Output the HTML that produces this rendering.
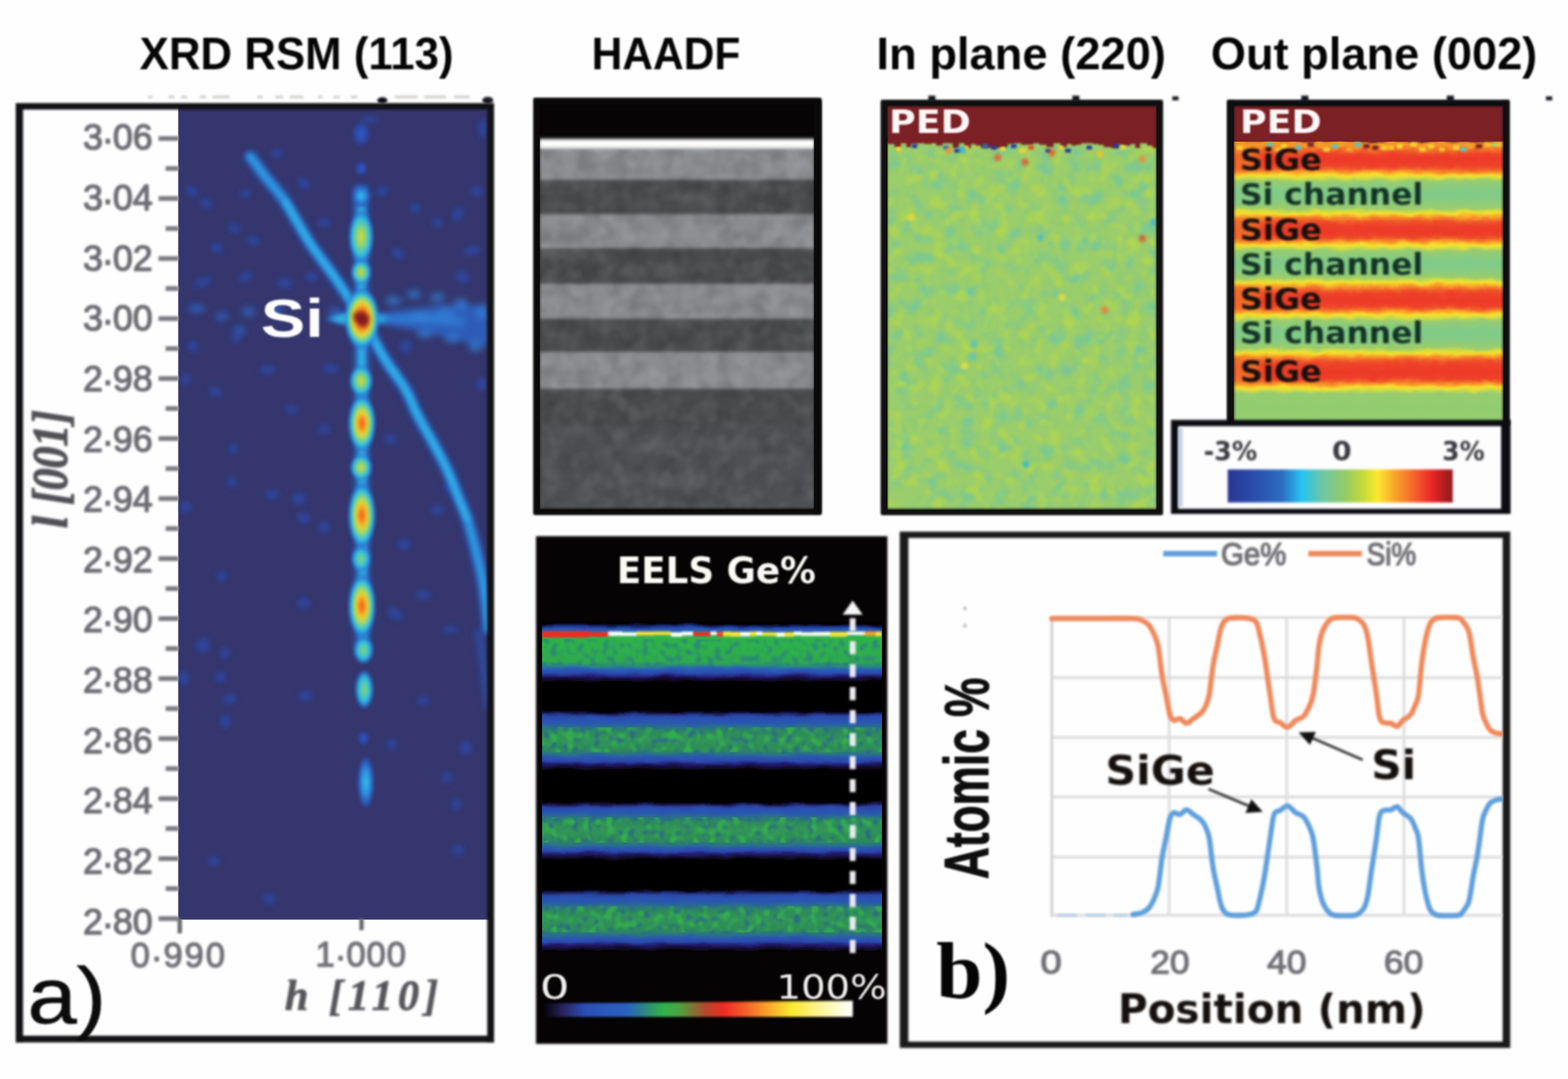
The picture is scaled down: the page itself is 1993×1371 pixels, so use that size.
<!DOCTYPE html>
<html lang="en">
<head>
<meta charset="utf-8">
<title>SiGe/Si multilayer characterisation figure</title>
<style>
html,body{margin:0;padding:0;background:#fefefe;}
body{width:1993px;height:1371px;overflow:hidden;font-family:"Liberation Sans",sans-serif;}
svg{display:block;}
.sb{font-family:"Liberation Sans",sans-serif;font-weight:bold;}
.sr{font-family:"Liberation Sans",sans-serif;}
.db{font-family:"DejaVu Sans","Liberation Sans",sans-serif;font-weight:bold;}
.dr{font-family:"DejaVu Sans","Liberation Sans",sans-serif;}
.si{font-family:"Liberation Serif",serif;font-style:italic;}
.sfb{font-family:"Liberation Serif",serif;font-weight:bold;}
</style>
</head>
<body>
<svg width="1993" height="1371" viewBox="0 0 1993 1371">
<defs>
<filter color-interpolation-filters="sRGB" id="b1" filterUnits="userSpaceOnUse" x="0" y="0" width="1993" height="1371"><feGaussianBlur stdDeviation="1.5"/></filter>
<filter color-interpolation-filters="sRGB" id="b15" filterUnits="userSpaceOnUse" x="0" y="0" width="1993" height="1371"><feGaussianBlur stdDeviation="1.5"/></filter>
<filter color-interpolation-filters="sRGB" id="b2" filterUnits="userSpaceOnUse" x="0" y="0" width="1993" height="1371"><feGaussianBlur stdDeviation="2"/></filter>
<filter color-interpolation-filters="sRGB" id="b3" filterUnits="userSpaceOnUse" x="0" y="0" width="1993" height="1371"><feGaussianBlur stdDeviation="3"/></filter>
<filter color-interpolation-filters="sRGB" id="b4" filterUnits="userSpaceOnUse" x="0" y="0" width="1993" height="1371"><feGaussianBlur stdDeviation="4.5"/></filter>
<filter color-interpolation-filters="sRGB" id="bt" x="-10%" y="-30%" width="120%" height="160%"><feGaussianBlur stdDeviation="1.2"/></filter>
<filter color-interpolation-filters="sRGB" id="bt2" x="-10%" y="-30%" width="120%" height="160%"><feGaussianBlur stdDeviation="1.8"/></filter>
<filter color-interpolation-filters="sRGB" id="grain" x="0" y="0" width="100%" height="100%">
  <feTurbulence type="fractalNoise" baseFrequency="0.045" numOctaves="2" seed="11" result="n"/>
  <feColorMatrix in="n" type="matrix" values="0 0 0 0 1  0 0 0 0 1  0 0 0 0 1  1.6 0 0 0 -0.62"/>
  <feGaussianBlur stdDeviation="1.2"/>
</filter>
<filter color-interpolation-filters="sRGB" id="grainD" x="0" y="0" width="100%" height="100%">
  <feTurbulence type="fractalNoise" baseFrequency="0.045" numOctaves="2" seed="23" result="n"/>
  <feColorMatrix in="n" type="matrix" values="0 0 0 0 0  0 0 0 0 0  0 0 0 0 0  1.6 0 0 0 -0.62"/>
  <feGaussianBlur stdDeviation="1.2"/>
</filter>
<filter color-interpolation-filters="sRGB" id="teal" x="0" y="0" width="100%" height="100%">
  <feTurbulence type="fractalNoise" baseFrequency="0.05" numOctaves="2" seed="5" result="n"/>
  <feColorMatrix in="n" type="matrix" values="0 0 0 0 0.46  0 0 0 0 0.78  0 0 0 0 0.60  3.0 0 0 0 -1.42"/>
  <feGaussianBlur stdDeviation="1.5"/>
</filter>
<filter color-interpolation-filters="sRGB" id="yel" x="0" y="0" width="100%" height="100%">
  <feTurbulence type="fractalNoise" baseFrequency="0.06" numOctaves="2" seed="41" result="n"/>
  <feColorMatrix in="n" type="matrix" values="0 0 0 0 0.72  0 0 0 0 0.85  0 0 0 0 0.28  3.0 0 0 0 -1.45"/>
  <feGaussianBlur stdDeviation="1.5"/>
</filter>
<filter color-interpolation-filters="sRGB" id="bluesp" x="0" y="0" width="100%" height="100%">
  <feTurbulence type="fractalNoise" baseFrequency="0.11" numOctaves="1" seed="9" result="n"/>
  <feColorMatrix in="n" type="matrix" values="0 0 0 0 0.16  0 0 0 0 0.40  0 0 0 0 0.56  5 0 0 0 -2.55"/>
  <feGaussianBlur stdDeviation="1.2"/>
</filter>
<filter color-interpolation-filters="sRGB" id="grsp" x="0" y="0" width="100%" height="100%">
  <feTurbulence type="fractalNoise" baseFrequency="0.12" numOctaves="1" seed="17" result="n"/>
  <feColorMatrix in="n" type="matrix" values="0 0 0 0 0.16  0 0 0 0 0.40  0 0 0 0 0.62  5 0 0 0 -2.4"/>
  <feGaussianBlur stdDeviation="1.1"/>
</filter>
<filter color-interpolation-filters="sRGB" id="grnsp" x="0" y="0" width="100%" height="100%">
  <feTurbulence type="fractalNoise" baseFrequency="0.10" numOctaves="1" seed="33" result="n"/>
  <feColorMatrix in="n" type="matrix" values="0 0 0 0 0.21  0 0 0 0 0.69  0 0 0 0 0.30  5 0 0 0 -2.45"/>
  <feGaussianBlur stdDeviation="1.1"/>
</filter>
<filter color-interpolation-filters="sRGB" id="redsp" x="0" y="0" width="100%" height="100%">
  <feTurbulence type="fractalNoise" baseFrequency="0.10" numOctaves="2" seed="29" result="n"/>
  <feColorMatrix in="n" type="matrix" values="0 0 0 0 0.93  0 0 0 0 0.22  0 0 0 0 0.14  3.2 0 0 0 -1.5"/>
  <feGaussianBlur stdDeviation="1.2"/>
</filter>
<linearGradient id="jet" x1="0" y1="0" x2="1" y2="0">
  <stop offset="0" stop-color="#2b3594"/>
  <stop offset="0.10" stop-color="#2a4aa8"/>
  <stop offset="0.24" stop-color="#2d6cc0"/>
  <stop offset="0.33" stop-color="#25c3f0"/>
  <stop offset="0.42" stop-color="#6ec6a6"/>
  <stop offset="0.52" stop-color="#92cb68"/>
  <stop offset="0.60" stop-color="#c4d93a"/>
  <stop offset="0.665" stop-color="#fbe92c"/>
  <stop offset="0.74" stop-color="#f9a62a"/>
  <stop offset="0.83" stop-color="#f2622c"/>
  <stop offset="0.91" stop-color="#ea2426"/>
  <stop offset="1" stop-color="#8a1a1e"/>
</linearGradient>
<linearGradient id="eelsbar" x1="0" y1="0" x2="1" y2="0">
  <stop offset="0" stop-color="#07040f"/>
  <stop offset="0.06" stop-color="#2a2460"/>
  <stop offset="0.13" stop-color="#2a4fb4"/>
  <stop offset="0.27" stop-color="#2b62c0"/>
  <stop offset="0.33" stop-color="#2f8a7a"/>
  <stop offset="0.385" stop-color="#2eb44a"/>
  <stop offset="0.44" stop-color="#4fa040"/>
  <stop offset="0.52" stop-color="#b04a2c"/>
  <stop offset="0.58" stop-color="#ee2a26"/>
  <stop offset="0.66" stop-color="#f4682a"/>
  <stop offset="0.74" stop-color="#fbb22a"/>
  <stop offset="0.80" stop-color="#fbe82e"/>
  <stop offset="0.90" stop-color="#fdf6a0"/>
  <stop offset="1" stop-color="#ffffff"/>
</linearGradient>
<radialGradient id="gHot">
  <stop offset="0" stop-color="#e8301e"/>
  <stop offset="0.22" stop-color="#f2601e"/>
  <stop offset="0.40" stop-color="#f6a622"/>
  <stop offset="0.54" stop-color="#dede3c"/>
  <stop offset="0.66" stop-color="#86d284"/>
  <stop offset="0.78" stop-color="#2cc0e6"/>
  <stop offset="0.90" stop-color="#2a78d4" stop-opacity="0.8"/>
  <stop offset="1" stop-color="#2a50c0" stop-opacity="0"/>
</radialGradient>
<radialGradient id="gSpike">
  <stop offset="0" stop-color="#8ad480"/>
  <stop offset="0.35" stop-color="#3cc6dc"/>
  <stop offset="0.7" stop-color="#2c9ee2" stop-opacity="0.9"/>
  <stop offset="1" stop-color="#2a60cc" stop-opacity="0"/>
</radialGradient>
<radialGradient id="gOr">
  <stop offset="0" stop-color="#f2541e"/>
  <stop offset="0.18" stop-color="#f7821e"/>
  <stop offset="0.34" stop-color="#f4c628"/>
  <stop offset="0.48" stop-color="#c0dc4a"/>
  <stop offset="0.62" stop-color="#6fd0a0"/>
  <stop offset="0.76" stop-color="#2cc0e6"/>
  <stop offset="0.9" stop-color="#2a6fd0" stop-opacity="0.8"/>
  <stop offset="1" stop-color="#2a50c0" stop-opacity="0"/>
</radialGradient>
<radialGradient id="gYe">
  <stop offset="0" stop-color="#d4dc3c"/>
  <stop offset="0.25" stop-color="#a8d458"/>
  <stop offset="0.5" stop-color="#62cca8"/>
  <stop offset="0.72" stop-color="#2cbce6"/>
  <stop offset="0.9" stop-color="#2a6fd0" stop-opacity="0.8"/>
  <stop offset="1" stop-color="#2a50c0" stop-opacity="0"/>
</radialGradient>
<radialGradient id="gGr">
  <stop offset="0" stop-color="#8ed272"/>
  <stop offset="0.3" stop-color="#5ccca8"/>
  <stop offset="0.62" stop-color="#2cbce6"/>
  <stop offset="0.88" stop-color="#2a6fd0" stop-opacity="0.8"/>
  <stop offset="1" stop-color="#2a50c0" stop-opacity="0"/>
</radialGradient>
<radialGradient id="gCy">
  <stop offset="0" stop-color="#34c4ea"/>
  <stop offset="0.5" stop-color="#2c8cdc"/>
  <stop offset="0.85" stop-color="#2a5cc8" stop-opacity="0.7"/>
  <stop offset="1" stop-color="#2a50c0" stop-opacity="0"/>
</radialGradient>
<radialGradient id="gBl">
  <stop offset="0" stop-color="#2a5ed0"/>
  <stop offset="0.6" stop-color="#2a50c0" stop-opacity="0.7"/>
  <stop offset="1" stop-color="#2a48b0" stop-opacity="0"/>
</radialGradient>
<clipPath id="clipHeat"><rect x="226.5" y="134" width="398" height="1034.5"/></clipPath>
<clipPath id="clipHaadf"><rect x="686" y="132" width="349" height="516"/></clipPath>
<clipPath id="clipIn"><rect x="1128" y="134" width="342" height="514"/></clipPath>
<clipPath id="clipOut"><rect x="1568" y="134" width="343" height="403"/></clipPath>
<clipPath id="clipEels"><rect x="689" y="790" width="432" height="420"/></clipPath>
<clipPath id="clipChart"><rect x="1330" y="700" width="580" height="480"/></clipPath>
</defs>
<g id="panel-a">
<g filter="url(#b1)" opacity="0.5">
<rect x="188" y="121.5" width="6" height="3.5" fill="#aaa6a2"/>
<rect x="214" y="121.5" width="8" height="3.5" fill="#aaa6a2"/>
<rect x="230" y="121.5" width="8" height="3.5" fill="#aaa6a2"/>
<rect x="254" y="121.5" width="8" height="3.5" fill="#aaa6a2"/>
<rect x="270" y="121.5" width="22" height="3.5" fill="#aaa6a2"/>
<rect x="327" y="121.5" width="7" height="3.5" fill="#aaa6a2"/>
<rect x="350" y="121.5" width="10" height="3.5" fill="#aaa6a2"/>
<rect x="368" y="121.5" width="18" height="3.5" fill="#aaa6a2"/>
<rect x="404" y="121.5" width="6" height="3.5" fill="#aaa6a2"/>
<rect x="424" y="121.5" width="8" height="3.5" fill="#aaa6a2"/>
<rect x="446" y="121.5" width="8" height="3.5" fill="#aaa6a2"/>
<rect x="502" y="121.5" width="29" height="3.5" fill="#aaa6a2"/>
<rect x="539" y="121.5" width="28" height="3.5" fill="#aaa6a2"/>
<rect x="577" y="121.5" width="20" height="3.5" fill="#aaa6a2"/>
</g>
<g filter="url(#b15)"><ellipse cx="486" cy="127.5" rx="6.5" ry="4" fill="#0c0e14"/><ellipse cx="620" cy="127.5" rx="7" ry="4.5" fill="#1e1c22"/></g>
<rect x="24" y="135" width="600" height="1185" fill="#fefefe"/>
<g clip-path="url(#clipHeat)">
<rect x="224" y="132" width="402" height="1038" fill="#34366d"/>
<g filter="url(#b3)">
<ellipse cx="244" cy="243" rx="9" ry="6" fill="#2a50c0" opacity="0.52" transform="rotate(25 244 243)"/>
<ellipse cx="262" cy="258" rx="8" ry="6" fill="#2a50c0" opacity="0.52" transform="rotate(20 262 258)"/>
<ellipse cx="298" cy="290" rx="8" ry="6" fill="#2a50c0" opacity="0.52" transform="rotate(30 298 290)"/>
<ellipse cx="312" cy="246" rx="7" ry="6" fill="#2a50c0" opacity="0.52" transform="rotate(0 312 246)"/>
<ellipse cx="352" cy="195" rx="7" ry="6" fill="#2a50c0" opacity="0.52" transform="rotate(0 352 195)"/>
<ellipse cx="258" cy="358" rx="12" ry="6" fill="#2a50c0" opacity="0.52" transform="rotate(-20 258 358)"/>
<ellipse cx="276" cy="315" rx="8" ry="7" fill="#2a50c0" opacity="0.52" transform="rotate(30 276 315)"/>
<ellipse cx="312" cy="352" rx="9" ry="6" fill="#2a50c0" opacity="0.52" transform="rotate(-30 312 352)"/>
<ellipse cx="322" cy="306" rx="9" ry="6" fill="#2a50c0" opacity="0.52" transform="rotate(30 322 306)"/>
<ellipse cx="386" cy="233" rx="9" ry="7" fill="#2a50c0" opacity="0.52" transform="rotate(30 386 233)"/>
<ellipse cx="412" cy="283" rx="9" ry="6" fill="#2a50c0" opacity="0.52" transform="rotate(0 412 283)"/>
<ellipse cx="396" cy="352" rx="8" ry="7" fill="#2a50c0" opacity="0.52" transform="rotate(0 396 352)"/>
<ellipse cx="362" cy="360" rx="10" ry="7" fill="#2a50c0" opacity="0.52" transform="rotate(0 362 360)"/>
<ellipse cx="486" cy="243" rx="9" ry="6" fill="#2a50c0" opacity="0.52" transform="rotate(-20 486 243)"/>
<ellipse cx="506" cy="322" rx="9" ry="7" fill="#2a50c0" opacity="0.52" transform="rotate(30 506 322)"/>
<ellipse cx="528" cy="265" rx="7" ry="7" fill="#2a50c0" opacity="0.52" transform="rotate(0 528 265)"/>
<ellipse cx="556" cy="283" rx="7" ry="6" fill="#2a50c0" opacity="0.52" transform="rotate(0 556 283)"/>
<ellipse cx="582" cy="272" rx="7" ry="10" fill="#2a50c0" opacity="0.52" transform="rotate(20 582 272)"/>
<ellipse cx="606" cy="243" rx="7" ry="7" fill="#2a50c0" opacity="0.52" transform="rotate(0 606 243)"/>
<ellipse cx="614" cy="163" rx="6" ry="12" fill="#2a50c0" opacity="0.52" transform="rotate(0 614 163)"/>
<ellipse cx="600" cy="318" rx="11" ry="6" fill="#2a50c0" opacity="0.52" transform="rotate(-10 600 318)"/>
<ellipse cx="588" cy="352" rx="9" ry="8" fill="#2a50c0" opacity="0.52" transform="rotate(30 588 352)"/>
<ellipse cx="470" cy="152" rx="11" ry="5" fill="#2a50c0" opacity="0.52" transform="rotate(0 470 152)"/>
<ellipse cx="245" cy="440" rx="7" ry="7" fill="#2a50c0" opacity="0.52" transform="rotate(0 245 440)"/>
<ellipse cx="300" cy="430" rx="7" ry="6" fill="#2a50c0" opacity="0.52" transform="rotate(0 300 430)"/>
<ellipse cx="340" cy="470" rx="10" ry="6" fill="#2a50c0" opacity="0.52" transform="rotate(0 340 470)"/>
<ellipse cx="420" cy="468" rx="11" ry="6" fill="#2a50c0" opacity="0.52" transform="rotate(10 420 468)"/>
<ellipse cx="516" cy="440" rx="8" ry="9" fill="#2a50c0" opacity="0.52" transform="rotate(0 516 440)"/>
<ellipse cx="236" cy="482" rx="6" ry="7" fill="#2a50c0" opacity="0.52" transform="rotate(0 236 482)"/>
<ellipse cx="274" cy="498" rx="9" ry="7" fill="#2a50c0" opacity="0.52" transform="rotate(20 274 498)"/>
<ellipse cx="370" cy="520" rx="8" ry="6" fill="#2a50c0" opacity="0.52" transform="rotate(0 370 520)"/>
<ellipse cx="412" cy="546" rx="8" ry="6" fill="#2a50c0" opacity="0.52" transform="rotate(0 412 546)"/>
<ellipse cx="296" cy="570" rx="6" ry="7" fill="#2a50c0" opacity="0.52" transform="rotate(0 296 570)"/>
<ellipse cx="295" cy="612" rx="7" ry="7" fill="#2a50c0" opacity="0.52" transform="rotate(0 295 612)"/>
<ellipse cx="346" cy="628" rx="9" ry="6" fill="#2a50c0" opacity="0.52" transform="rotate(0 346 628)"/>
<ellipse cx="380" cy="634" rx="9" ry="8" fill="#2a50c0" opacity="0.52" transform="rotate(0 380 634)"/>
<ellipse cx="386" cy="658" rx="9" ry="7" fill="#2a50c0" opacity="0.52" transform="rotate(20 386 658)"/>
<ellipse cx="412" cy="670" rx="7" ry="8" fill="#2a50c0" opacity="0.52" transform="rotate(0 412 670)"/>
<ellipse cx="236" cy="644" rx="8" ry="7" fill="#2a50c0" opacity="0.52" transform="rotate(0 236 644)"/>
<ellipse cx="496" cy="558" rx="8" ry="7" fill="#2a50c0" opacity="0.52" transform="rotate(0 496 558)"/>
<ellipse cx="556" cy="648" rx="8" ry="7" fill="#2a50c0" opacity="0.52" transform="rotate(0 556 648)"/>
<ellipse cx="514" cy="692" rx="9" ry="7" fill="#2a50c0" opacity="0.52" transform="rotate(0 514 692)"/>
<ellipse cx="538" cy="756" rx="10" ry="6" fill="#2a50c0" opacity="0.52" transform="rotate(0 538 756)"/>
<ellipse cx="574" cy="620" rx="11" ry="5" fill="#2a50c0" opacity="0.52" transform="rotate(0 574 620)"/>
<ellipse cx="612" cy="488" rx="7" ry="9" fill="#2a50c0" opacity="0.52" transform="rotate(0 612 488)"/>
<ellipse cx="282" cy="732" rx="7" ry="7" fill="#2a50c0" opacity="0.52" transform="rotate(0 282 732)"/>
<ellipse cx="386" cy="766" rx="9" ry="7" fill="#2a50c0" opacity="0.52" transform="rotate(0 386 766)"/>
<ellipse cx="502" cy="780" rx="11" ry="7" fill="#2a50c0" opacity="0.52" transform="rotate(35 502 780)"/>
<ellipse cx="572" cy="800" rx="10" ry="5" fill="#2a50c0" opacity="0.52" transform="rotate(0 572 800)"/>
<ellipse cx="258" cy="820" rx="9" ry="10" fill="#2a50c0" opacity="0.52" transform="rotate(30 258 820)"/>
<ellipse cx="286" cy="830" rx="7" ry="7" fill="#2a50c0" opacity="0.52" transform="rotate(0 286 830)"/>
<ellipse cx="234" cy="862" rx="7" ry="9" fill="#2a50c0" opacity="0.52" transform="rotate(0 234 862)"/>
<ellipse cx="280" cy="860" rx="7" ry="7" fill="#2a50c0" opacity="0.52" transform="rotate(0 280 860)"/>
<ellipse cx="292" cy="888" rx="8" ry="7" fill="#2a50c0" opacity="0.52" transform="rotate(0 292 888)"/>
<ellipse cx="286" cy="916" rx="7" ry="9" fill="#2a50c0" opacity="0.52" transform="rotate(20 286 916)"/>
<ellipse cx="388" cy="884" rx="9" ry="7" fill="#2a50c0" opacity="0.52" transform="rotate(0 388 884)"/>
<ellipse cx="498" cy="946" rx="7" ry="7" fill="#2a50c0" opacity="0.52" transform="rotate(0 498 946)"/>
<ellipse cx="538" cy="890" rx="8" ry="6" fill="#2a50c0" opacity="0.52" transform="rotate(0 538 890)"/>
<ellipse cx="592" cy="950" rx="8" ry="9" fill="#2a50c0" opacity="0.52" transform="rotate(0 592 950)"/>
<ellipse cx="568" cy="988" rx="7" ry="7" fill="#2a50c0" opacity="0.52" transform="rotate(0 568 988)"/>
<ellipse cx="580" cy="1022" rx="7" ry="7" fill="#2a50c0" opacity="0.52" transform="rotate(0 580 1022)"/>
<ellipse cx="582" cy="1080" rx="8" ry="7" fill="#2a50c0" opacity="0.52" transform="rotate(0 582 1080)"/>
<ellipse cx="272" cy="1094" rx="8" ry="6" fill="#2a50c0" opacity="0.52" transform="rotate(0 272 1094)"/>
<ellipse cx="342" cy="1142" rx="8" ry="7" fill="#2a50c0" opacity="0.52" transform="rotate(30 342 1142)"/>
</g>
<path d="M318 199C321.7 203.8 332.5 218.3 340 228C347.5 237.7 354 243.5 363 257C372 270.5 383.2 292.5 394 309C404.8 325.5 417 340 428 356C439 372 449.8 388.3 460 405C470.2 421.7 479.8 441.2 489 456C498.2 470.8 508 482 515 494C522 506 525.3 517 531 528C536.7 539 542.8 548.7 549 560C555.2 571.3 562.7 584.7 568 596C573.3 607.3 576.7 617.3 581 628C585.3 638.7 590.2 648.7 594 660C597.8 671.3 601 684.3 604 696C607 707.7 609.8 719 612 730C614.2 741 615.5 750.3 617 762C618.5 773.7 620.3 793.7 621 800" fill="none" stroke="#2a62cc" stroke-width="15" stroke-linecap="round" opacity="0.8" filter="url(#b4)"/>
<path d="M318 199C321.7 203.8 332.5 218.3 340 228C347.5 237.7 354 243.5 363 257C372 270.5 383.2 292.5 394 309C404.8 325.5 417 340 428 356C439 372 449.8 388.3 460 405C470.2 421.7 479.8 441.2 489 456C498.2 470.8 508 482 515 494C522 506 525.3 517 531 528C536.7 539 542.8 548.7 549 560C555.2 571.3 562.7 584.7 568 596C573.3 607.3 576.7 617.3 581 628C585.3 638.7 590.2 648.7 594 660C597.8 671.3 601 684.3 604 696C607 707.7 609.8 719 612 730C614.2 741 615.5 750.3 617 762C618.5 773.7 620.3 793.7 621 800" fill="none" stroke="#2e98e0" stroke-width="10" stroke-linecap="round" filter="url(#b3)"/>
<path d="M363 257C368.2 265.7 383.2 292.5 394 309C404.8 325.5 417 340 428 356C439 372 449.8 388.3 460 405C470.2 421.7 479.8 441.2 489 456C498.2 470.8 508 482 515 494C522 506 525.3 517 531 528C536.7 539 542.8 548.7 549 560C555.2 571.3 562.7 584.7 568 596C573.3 607.3 576.7 617.3 581 628C585.3 638.7 591.8 654.7 594 660" fill="none" stroke="#34bcea" stroke-width="5" stroke-linecap="round" opacity="0.8" filter="url(#b3)"/>
<path d="M608 800 Q616 850 622 900" fill="none" stroke="#2a60cc" stroke-width="9" opacity="0.6" filter="url(#b4)"/>
<g filter="url(#b4)">
<path d="M486 398 L520 392 L560 388 L622 388 L622 440 L590 434 L540 422 L486 412 Z" fill="#2c66ca" opacity="0.8"/>
<path d="M480 400 L540 399 L590 405 L590 414 L540 411 L480 410 Z" fill="#3386da" opacity="0.75"/>
<ellipse cx="500" cy="382" rx="10" ry="6" fill="#3280d8" opacity="0.7"/>
<ellipse cx="526" cy="374" rx="9" ry="6" fill="#3280d8" opacity="0.7"/>
<ellipse cx="556" cy="378" rx="9" ry="6" fill="#3280d8" opacity="0.7"/>
<ellipse cx="586" cy="386" rx="9" ry="7" fill="#3280d8" opacity="0.7"/>
<ellipse cx="612" cy="396" rx="8" ry="9" fill="#3280d8" opacity="0.7"/>
<ellipse cx="540" cy="424" rx="10" ry="6" fill="#3280d8" opacity="0.7"/>
<ellipse cx="575" cy="430" rx="10" ry="6" fill="#3280d8" opacity="0.7"/>
<ellipse cx="604" cy="440" rx="9" ry="7" fill="#3280d8" opacity="0.7"/>
<ellipse cx="534" cy="402" rx="12" ry="7" fill="#3280d8" opacity="0.7"/>
<ellipse cx="566" cy="398" rx="12" ry="8" fill="#3280d8" opacity="0.7"/>
<ellipse cx="350" cy="394" rx="9" ry="6" fill="#2c6ad0" opacity="0.75"/>
<ellipse cx="316" cy="396" rx="8" ry="6" fill="#2c6ad0" opacity="0.75"/>
<ellipse cx="282" cy="402" rx="8" ry="5" fill="#2c6ad0" opacity="0.75"/>
<ellipse cx="304" cy="420" rx="7" ry="6" fill="#2c6ad0" opacity="0.75"/>
<ellipse cx="250" cy="392" rx="11" ry="5" fill="#2c6ad0" opacity="0.75"/>
<ellipse cx="426" cy="396" rx="9" ry="5" fill="#2c6ad0" opacity="0.75"/>
</g>
<path d="M459 236 L460 520 L461 830" fill="none" stroke="#2a72d6" stroke-width="17" opacity="0.85" filter="url(#b4)"/>
<path d="M459 262 L460 520 L461 812" fill="none" stroke="#30b8e8" stroke-width="9" filter="url(#b3)"/>
<g filter="url(#b2)">
<ellipse cx="459" cy="170" rx="12" ry="17" fill="url(#gBl)"/>
<ellipse cx="459" cy="214" rx="9" ry="10" fill="url(#gBl)"/>
<ellipse cx="459" cy="249" rx="12" ry="14" fill="url(#gCy)"/>
<ellipse cx="459" cy="301" rx="16" ry="34" fill="url(#gYe)"/>
<ellipse cx="459" cy="346" rx="13" ry="16" fill="url(#gYe)"/>
<ellipse cx="459" cy="484" rx="15" ry="20" fill="url(#gYe)"/>
<ellipse cx="460" cy="538" rx="18" ry="37" fill="url(#gOr)"/>
<ellipse cx="459" cy="594" rx="14" ry="17" fill="url(#gYe)"/>
<ellipse cx="460" cy="655" rx="18" ry="42" fill="url(#gOr)"/>
<ellipse cx="459" cy="710" rx="13" ry="17" fill="url(#gGr)"/>
<ellipse cx="460" cy="770" rx="18" ry="41" fill="url(#gOr)"/>
<ellipse cx="462" cy="826" rx="13" ry="18" fill="url(#gGr)"/>
<ellipse cx="463" cy="876" rx="12" ry="25" fill="url(#gGr)"/>
<ellipse cx="462" cy="938" rx="8" ry="10" fill="url(#gBl)"/>
<ellipse cx="465" cy="994" rx="11" ry="34" fill="url(#gCy)"/>
<ellipse cx="456" cy="405" rx="46" ry="11" fill="url(#gSpike)"/>
<ellipse cx="460" cy="405" rx="23" ry="40" fill="url(#gHot)"/>
</g>
<path d="M449 398 L462 396 L470 404 L466 415 L458 414 L450 406 Z" fill="#7c1a20" filter="url(#b3)"/>
</g>
<g fill="#121214" filter="url(#b1)">
<rect x="20" y="131" width="9.3" height="1193.5"/>
<rect x="20" y="131" width="608" height="8.2"/>
<rect x="619.3" y="131" width="8.7" height="1193.5"/>
<rect x="20" y="1316" width="608" height="8.5"/>
</g>
<text class="sb" x="331.5" y="427.5" font-size="69" fill="#ffffff" textLength="80" lengthAdjust="spacingAndGlyphs" filter="url(#bt)">Si</text>
<g fill="#7a7a80" filter="url(#b1)">
<rect x="201.5" y="173.0" width="25.5" height="6"/>
<rect x="210.5" y="211.1" width="16.5" height="6"/>
<rect x="201.5" y="249.2" width="25.5" height="6"/>
<rect x="210.5" y="287.4" width="16.5" height="6"/>
<rect x="201.5" y="325.5" width="25.5" height="6"/>
<rect x="210.5" y="363.6" width="16.5" height="6"/>
<rect x="201.5" y="401.8" width="25.5" height="6"/>
<rect x="210.5" y="439.9" width="16.5" height="6"/>
<rect x="201.5" y="478.0" width="25.5" height="6"/>
<rect x="210.5" y="516.1" width="16.5" height="6"/>
<rect x="201.5" y="554.2" width="25.5" height="6"/>
<rect x="210.5" y="592.4" width="16.5" height="6"/>
<rect x="201.5" y="630.5" width="25.5" height="6"/>
<rect x="210.5" y="668.6" width="16.5" height="6"/>
<rect x="201.5" y="706.8" width="25.5" height="6"/>
<rect x="210.5" y="744.9" width="16.5" height="6"/>
<rect x="201.5" y="783.0" width="25.5" height="6"/>
<rect x="210.5" y="821.1" width="16.5" height="6"/>
<rect x="201.5" y="859.2" width="25.5" height="6"/>
<rect x="210.5" y="897.4" width="16.5" height="6"/>
<rect x="201.5" y="935.5" width="25.5" height="6"/>
<rect x="210.5" y="973.6" width="16.5" height="6"/>
<rect x="201.5" y="1011.8" width="25.5" height="6"/>
<rect x="210.5" y="1049.8" width="16.5" height="6"/>
<rect x="201.5" y="1088.0" width="25.5" height="6"/>
<rect x="210.5" y="1126.1" width="16.5" height="6"/>
<rect x="201.5" y="1164.2" width="25.5" height="6"/>
</g>
<g fill="#66666c" filter="url(#b1)"><rect x="225.8" y="1167" width="5.4" height="19"/><rect x="456.8" y="1167" width="5.4" height="15"/></g>
<g class="sr" font-size="45.5" fill="#6c6c72" stroke="#6c6c72" stroke-width="1.5" text-anchor="end" filter="url(#bt2)">
<text x="194" y="190.2">3<tspan dy="-8">.</tspan><tspan dy="8">06</tspan></text>
<text x="194" y="266.9">3<tspan dy="-8">.</tspan><tspan dy="8">04</tspan></text>
<text x="194" y="343.5">3<tspan dy="-8">.</tspan><tspan dy="8">02</tspan></text>
<text x="194" y="420.1">3<tspan dy="-8">.</tspan><tspan dy="8">00</tspan></text>
<text x="194" y="496.8">2<tspan dy="-8">.</tspan><tspan dy="8">98</tspan></text>
<text x="194" y="573.5">2<tspan dy="-8">.</tspan><tspan dy="8">96</tspan></text>
<text x="194" y="650.1">2<tspan dy="-8">.</tspan><tspan dy="8">94</tspan></text>
<text x="194" y="726.8">2<tspan dy="-8">.</tspan><tspan dy="8">92</tspan></text>
<text x="194" y="803.4">2<tspan dy="-8">.</tspan><tspan dy="8">90</tspan></text>
<text x="194" y="880.0">2<tspan dy="-8">.</tspan><tspan dy="8">88</tspan></text>
<text x="194" y="956.7">2<tspan dy="-8">.</tspan><tspan dy="8">86</tspan></text>
<text x="194" y="1033.4">2<tspan dy="-8">.</tspan><tspan dy="8">84</tspan></text>
<text x="194" y="1110.0">2<tspan dy="-8">.</tspan><tspan dy="8">82</tspan></text>
<text x="194" y="1186.7">2<tspan dy="-8">.</tspan><tspan dy="8">80</tspan></text>
</g>
<g class="sr" font-size="44" fill="#707076" stroke="#707076" stroke-width="1.4" filter="url(#bt2)">
<text x="166" y="1229" textLength="120" lengthAdjust="spacing">0<tspan dy="-8">.</tspan><tspan dy="8">990</tspan></text>
<text x="401" y="1228" textLength="115" lengthAdjust="spacing">1<tspan dy="-8">.</tspan><tspan dy="8">000</tspan></text>
</g>
<text class="si" x="362" y="1283" font-size="54" font-weight="bold" fill="#55555a" stroke="#55555a" stroke-width="0.8" textLength="195" lengthAdjust="spacing" filter="url(#bt2)">h [110]</text>
<text class="si" transform="translate(85 671) rotate(-90)" font-size="64" font-weight="bold" fill="#505055" stroke="#505055" stroke-width="1.4" textLength="150" lengthAdjust="spacingAndGlyphs" filter="url(#bt2)">l [001]</text>
<text class="sr" x="35" y="1300" font-size="101" fill="#0c0c0c" stroke="#0c0c0c" stroke-width="0.8" textLength="100" lengthAdjust="spacingAndGlyphs" filter="url(#bt)">a)</text>
</g>
<g id="haadf">
<rect x="678.5" y="125" width="365.5" height="528.5" fill="#0a0808" filter="url(#b1)"/>
<g clip-path="url(#clipHaadf)">
<g filter="url(#b2)">
<rect x="680" y="120" width="362" height="56" fill="#060404"/>
<rect x="680" y="185" width="362" height="474" fill="#4a4b4d"/>
<rect x="680" y="184.0" width="362" height="44.5" fill="#8b8c8f"/>
<rect x="680" y="272.0" width="362" height="43.5" fill="#8b8c8f"/>
<rect x="680" y="360.5" width="362" height="44.5" fill="#8b8c8f"/>
<rect x="680" y="447.0" width="362" height="47.0" fill="#8b8c8f"/>
<rect x="680" y="540" width="362" height="120" fill="#515255" opacity="0.7"/>
</g>
<rect x="686" y="189" width="349" height="460" fill="#ffffff" opacity="0.13" filter="url(#grain)"/>
<rect x="686" y="189" width="349" height="460" fill="#000000" opacity="0.18" filter="url(#grainD)"/>
<rect x="682" y="176.5" width="358" height="12" fill="#fcfcfc" filter="url(#b2)"/>
</g>
<rect x="682.3" y="128.5" width="357.2" height="521.5" fill="none" stroke="#0a0808" stroke-width="7.5" filter="url(#b1)"/>
<rect x="1035" y="128" width="8.5" height="524" fill="#0a0808" filter="url(#b1)"/>
</g>
<g id="inplane">
<rect x="1120" y="127.5" width="357.5" height="526" fill="#101010" filter="url(#b1)"/>
<g clip-path="url(#clipIn)">
<rect x="1126" y="132" width="346" height="518" fill="#9acd6c"/>
<rect x="1128" y="184" width="342" height="464" filter="url(#teal)"/>
<rect x="1128" y="184" width="342" height="464" filter="url(#yel)" opacity="0.8"/>
<path d="M1126 132 L1472 132 L1472 184 L1472 188 L1465 188 L1465 185 L1458 185 L1458 182 L1449 182 L1449 188 L1443 188 L1443 183 L1437 183 L1437 185 L1428 185 L1428 184 L1421 184 L1421 188 L1412 188 L1412 187 L1403 187 L1403 184 L1396 184 L1396 183 L1389 183 L1389 182 L1380 182 L1380 182 L1374 182 L1374 184 L1368 184 L1368 185 L1362 185 L1362 183 L1356 183 L1356 187 L1348 187 L1348 182 L1339 182 L1339 187 L1330 187 L1330 184 L1321 184 L1321 182 L1313 182 L1313 184 L1307 184 L1307 184 L1298 184 L1298 182 L1290 182 L1290 183 L1281 183 L1281 187 L1273 187 L1273 188 L1264 188 L1264 188 L1256 188 L1256 188 L1247 188 L1247 185 L1240 185 L1240 183 L1234 183 L1234 188 L1226 188 L1226 182 L1219 182 L1219 188 L1211 188 L1211 182 L1205 182 L1205 182 L1198 182 L1198 185 L1190 185 L1190 182 L1184 182 L1184 183 L1175 183 L1175 182 L1166 182 L1166 183 L1158 183 L1158 187 L1152 187 L1152 182 L1145 182 L1145 187 L1137 187 L1137 183 L1128 183 L1128 182 L1122 182 L1126 184 Z" fill="#7b2024" filter="url(#b1)"/>
<g filter="url(#b1)">
<rect x="1139" y="187" width="7" height="5" fill="#f4d52e"/>
<rect x="1159" y="183" width="7" height="5" fill="#2a3a9c"/>
<rect x="1199" y="185" width="7" height="5" fill="#2d6cc0"/>
<rect x="1213" y="189" width="7" height="5" fill="#2a3a9c"/>
<rect x="1224" y="185" width="7" height="5" fill="#f4d52e"/>
<rect x="1249" y="183" width="7" height="5" fill="#2d6cc0"/>
<rect x="1260" y="185" width="7" height="5" fill="#2a3a9c"/>
<rect x="1271" y="187" width="7" height="5" fill="#f4d52e"/>
<rect x="1285" y="183" width="7" height="5" fill="#2a3a9c"/>
<rect x="1296" y="189" width="7" height="5" fill="#f4d52e"/>
<rect x="1307" y="185" width="7" height="5" fill="#e84a28"/>
<rect x="1329" y="189" width="7" height="5" fill="#2a3a9c"/>
<rect x="1345" y="185" width="7" height="5" fill="#f4d52e"/>
<rect x="1354" y="189" width="7" height="5" fill="#2a3a9c"/>
<rect x="1381" y="185" width="7" height="5" fill="#2a3a9c"/>
<rect x="1415" y="183" width="7" height="5" fill="#2a3a9c"/>
<rect x="1424" y="185" width="7" height="5" fill="#f4d52e"/>
<circle cx="1268" cy="200" r="4.5" fill="#ec5a2c" opacity="0.85" filter="url(#b15)"/>
<circle cx="1303" cy="206" r="4.5" fill="#e4562e" opacity="0.85" filter="url(#b15)"/>
<circle cx="1337" cy="194" r="4.5" fill="#f0522a" opacity="0.85" filter="url(#b15)"/>
<circle cx="1398" cy="196" r="4.5" fill="#f6c42c" opacity="0.85" filter="url(#b15)"/>
<circle cx="1452" cy="202" r="4.5" fill="#f08a3a" opacity="0.85" filter="url(#b15)"/>
<circle cx="1206" cy="191" r="4.5" fill="#f0902a" opacity="0.85" filter="url(#b15)"/>
<circle cx="1223" cy="190" r="4.5" fill="#22b0ec" opacity="0.85" filter="url(#b15)"/>
<circle cx="1452" cy="303" r="4.5" fill="#e8502c" opacity="0.85" filter="url(#b15)"/>
<circle cx="1404" cy="394" r="4.5" fill="#f07a2a" opacity="0.85" filter="url(#b15)"/>
<circle cx="1158" cy="276" r="4.5" fill="#ecd838" opacity="0.85" filter="url(#b15)"/>
<circle cx="1350" cy="378" r="4.5" fill="#ece038" opacity="0.85" filter="url(#b15)"/>
<circle cx="1226" cy="465" r="4.5" fill="#ece038" opacity="0.85" filter="url(#b15)"/>
<circle cx="1304" cy="590" r="4.5" fill="#30b8dc" opacity="0.85" filter="url(#b15)"/>
<circle cx="1322" cy="302" r="4.5" fill="#4abcd0" opacity="0.85" filter="url(#b15)"/>
<circle cx="1236" cy="453" r="4.5" fill="#5cc4c0" opacity="0.85" filter="url(#b15)"/>
<circle cx="1238" cy="437" r="4.5" fill="#50c0c8" opacity="0.85" filter="url(#b15)"/>
<circle cx="1466" cy="282" r="4.5" fill="#40b8d8" opacity="0.85" filter="url(#b15)"/>
</g>
</g>
<rect x="1124" y="131.3" width="349.7" height="519" fill="none" stroke="#101010" stroke-width="7.6" filter="url(#b1)"/>
<text class="db" x="1130" y="169" font-size="40" fill="#fdf7f7" textLength="104" lengthAdjust="spacingAndGlyphs" filter="url(#bt)">PED</text>
<g filter="url(#b1)" fill="#14161c"><rect x="1180" y="121.5" width="9" height="8"/><rect x="1363" y="121.5" width="9" height="8"/><rect x="1490" y="122.5" width="8" height="5"/></g>
</g>
<linearGradient id="outg" gradientUnits="userSpaceOnUse" x1="0" y1="132" x2="0" y2="540">
<stop offset="0.0000" stop-color="#7b2024"/>
<stop offset="0.1164" stop-color="#7b2024"/>
<stop offset="0.1201" stop-color="#f59a2c"/>
<stop offset="0.1348" stop-color="#f5902c"/>
<stop offset="0.1471" stop-color="#f2642c"/>
<stop offset="0.1593" stop-color="#ee422a"/>
<stop offset="0.1721" stop-color="#ec3a28"/>
<stop offset="0.1946" stop-color="#ee442a"/>
<stop offset="0.2044" stop-color="#f2682c"/>
<stop offset="0.2142" stop-color="#f8a82a"/>
<stop offset="0.2228" stop-color="#f6e22e"/>
<stop offset="0.2314" stop-color="#cfdc44"/>
<stop offset="0.2412" stop-color="#98cc70"/>
<stop offset="0.2713" stop-color="#80cb88"/>
<stop offset="0.2958" stop-color="#84cb84"/>
<stop offset="0.3260" stop-color="#9ccc6c"/>
<stop offset="0.3333" stop-color="#c8da46"/>
<stop offset="0.3407" stop-color="#f4e22e"/>
<stop offset="0.3480" stop-color="#f8b42a"/>
<stop offset="0.3554" stop-color="#f5842c"/>
<stop offset="0.3652" stop-color="#f05a2c"/>
<stop offset="0.3775" stop-color="#ee422a"/>
<stop offset="0.3971" stop-color="#ec3a28"/>
<stop offset="0.4118" stop-color="#ee442a"/>
<stop offset="0.4216" stop-color="#f2682c"/>
<stop offset="0.4314" stop-color="#f8a82a"/>
<stop offset="0.4400" stop-color="#f6e22e"/>
<stop offset="0.4485" stop-color="#cfdc44"/>
<stop offset="0.4583" stop-color="#98cc70"/>
<stop offset="0.4877" stop-color="#80cb88"/>
<stop offset="0.5123" stop-color="#84cb84"/>
<stop offset="0.5417" stop-color="#9ccc6c"/>
<stop offset="0.5490" stop-color="#c8da46"/>
<stop offset="0.5564" stop-color="#f4e22e"/>
<stop offset="0.5637" stop-color="#f8b42a"/>
<stop offset="0.5711" stop-color="#f5842c"/>
<stop offset="0.5809" stop-color="#f05a2c"/>
<stop offset="0.5931" stop-color="#ee422a"/>
<stop offset="0.6135" stop-color="#ec3a28"/>
<stop offset="0.6289" stop-color="#ee442a"/>
<stop offset="0.6387" stop-color="#f2682c"/>
<stop offset="0.6485" stop-color="#f8a82a"/>
<stop offset="0.6571" stop-color="#f6e22e"/>
<stop offset="0.6657" stop-color="#cfdc44"/>
<stop offset="0.6755" stop-color="#98cc70"/>
<stop offset="0.7060" stop-color="#80cb88"/>
<stop offset="0.7305" stop-color="#84cb84"/>
<stop offset="0.7610" stop-color="#9ccc6c"/>
<stop offset="0.7684" stop-color="#c8da46"/>
<stop offset="0.7757" stop-color="#f4e22e"/>
<stop offset="0.7831" stop-color="#f8b42a"/>
<stop offset="0.7904" stop-color="#f5842c"/>
<stop offset="0.8002" stop-color="#f05a2c"/>
<stop offset="0.8125" stop-color="#ee422a"/>
<stop offset="0.8364" stop-color="#ec3a28"/>
<stop offset="0.8554" stop-color="#ee442a"/>
<stop offset="0.8652" stop-color="#f2682c"/>
<stop offset="0.8750" stop-color="#f8a82a"/>
<stop offset="0.8836" stop-color="#f6e22e"/>
<stop offset="0.8922" stop-color="#cfdc44"/>
<stop offset="0.9020" stop-color="#98cc70"/>
<stop offset="0.9387" stop-color="#92cc70"/>
<stop offset="1.0000" stop-color="#96cd6e"/>
</linearGradient>
<filter id="wav" x="-2%" y="-2%" width="104%" height="104%"><feTurbulence type="fractalNoise" baseFrequency="0.05 0.08" numOctaves="2" seed="4" result="t"/><feDisplacementMap in="SourceGraphic" in2="t" scale="7" xChannelSelector="R" yChannelSelector="G"/><feGaussianBlur stdDeviation="1"/></filter>
<g id="outplane">
<rect x="1560" y="127.5" width="358.6" height="412" fill="#101010" filter="url(#b1)"/>
<g clip-path="url(#clipOut)">
<rect x="1556" y="128" width="366" height="416" fill="url(#outg)" filter="url(#wav)"/>
<rect x="1568" y="185.0" width="343" height="30.4" filter="url(#redsp)" opacity="0.5"/>
<rect x="1566" y="183.0" width="34" height="34.4" fill="#f6902a" opacity="0.55" filter="url(#b4)"/>
<rect x="1568" y="280.0" width="343" height="24.0" filter="url(#redsp)" opacity="0.5"/>
<rect x="1566" y="278.0" width="34" height="28.0" fill="#f6902a" opacity="0.55" filter="url(#b4)"/>
<rect x="1568" y="368.0" width="343" height="24.6" filter="url(#redsp)" opacity="0.5"/>
<rect x="1566" y="366.0" width="34" height="28.6" fill="#f6902a" opacity="0.55" filter="url(#b4)"/>
<rect x="1568" y="457.5" width="343" height="27.5" filter="url(#redsp)" opacity="0.5"/>
<rect x="1566" y="455.5" width="34" height="31.5" fill="#f6902a" opacity="0.55" filter="url(#b4)"/>
<rect x="1560" y="128" width="358" height="52" fill="#7b2024"/>
<g filter="url(#b1)">
<rect x="1572" y="185" width="8" height="5.5" fill="#f4d52e"/>
<rect x="1581" y="185" width="8" height="5.5" fill="#f2a22a"/>
<rect x="1610" y="181" width="8" height="5.5" fill="#58c4c0"/>
<rect x="1621" y="187" width="8" height="5.5" fill="#f6c02c"/>
<rect x="1628" y="183" width="8" height="5.5" fill="#f4d52e"/>
<rect x="1646" y="185" width="8" height="5.5" fill="#58c4c0"/>
<rect x="1662" y="181" width="8" height="5.5" fill="#7b2024"/>
<rect x="1673" y="181" width="8" height="5.5" fill="#f2a22a"/>
<rect x="1682" y="187" width="8" height="5.5" fill="#f4d52e"/>
<rect x="1693" y="183" width="8" height="5.5" fill="#58c4c0"/>
<rect x="1700" y="181" width="8" height="5.5" fill="#f2a22a"/>
<rect x="1711" y="187" width="8" height="5.5" fill="#f2a22a"/>
<rect x="1722" y="181" width="8" height="5.5" fill="#58c4c0"/>
<rect x="1733" y="183" width="8" height="5.5" fill="#7b2024"/>
<rect x="1744" y="185" width="8" height="5.5" fill="#7b2024"/>
<rect x="1755" y="185" width="8" height="5.5" fill="#f4d52e"/>
<rect x="1764" y="185" width="8" height="5.5" fill="#f6c02c"/>
<rect x="1775" y="183" width="8" height="5.5" fill="#f4d52e"/>
<rect x="1793" y="181" width="8" height="5.5" fill="#f4d52e"/>
<rect x="1804" y="187" width="8" height="5.5" fill="#f4d52e"/>
<rect x="1815" y="183" width="8" height="5.5" fill="#f4d52e"/>
<rect x="1829" y="187" width="8" height="5.5" fill="#f6c02c"/>
<rect x="1847" y="185" width="8" height="5.5" fill="#f4d52e"/>
<rect x="1856" y="187" width="8" height="5.5" fill="#58c4c0"/>
<rect x="1865" y="183" width="8" height="5.5" fill="#f2a22a"/>
<rect x="1876" y="183" width="8" height="5.5" fill="#7b2024"/>
<rect x="1887" y="181" width="8" height="5.5" fill="#f6c02c"/>
<rect x="1896" y="181" width="8" height="5.5" fill="#a8d468"/>
<rect x="1903" y="181" width="8" height="5.5" fill="#f6c02c"/>
</g>
</g>
<g fill="#0e0e10" filter="url(#b1)"><rect x="1560" y="127.5" width="8.6" height="412"/><rect x="1560" y="127.5" width="358" height="7.6"/><rect x="1910" y="127.5" width="8" height="412"/></g>
<text class="db" x="1576" y="169" font-size="40" fill="#fdf7f7" textLength="104" lengthAdjust="spacingAndGlyphs" filter="url(#bt)">PED</text>
<g class="db" font-size="37" fill="#16100c" filter="url(#bt2)">
<text x="1576" y="216.0" textLength="104" lengthAdjust="spacingAndGlyphs">SiGe</text>
<text x="1576" y="304.7" textLength="104" lengthAdjust="spacingAndGlyphs">SiGe</text>
<text x="1576" y="393.4" textLength="104" lengthAdjust="spacingAndGlyphs">SiGe</text>
<text x="1576" y="485.0" textLength="104" lengthAdjust="spacingAndGlyphs">SiGe</text>
<text x="1576" y="260.0" textLength="233" lengthAdjust="spacingAndGlyphs" fill="#143224">Si channel</text>
<text x="1576" y="348.5" textLength="233" lengthAdjust="spacingAndGlyphs" fill="#143224">Si channel</text>
<text x="1576" y="436.4" textLength="233" lengthAdjust="spacingAndGlyphs" fill="#143224">Si channel</text>
</g>
<g filter="url(#b1)" fill="#14161c"><rect x="1654" y="121.5" width="9" height="8"/><rect x="1839" y="121.5" width="9" height="8"/><rect x="1965" y="122.5" width="8" height="5"/></g>
</g>
<g id="scale">
<rect x="1488.4" y="533.5" width="431.6" height="119.5" fill="#0c0c12" filter="url(#b1)"/>
<rect x="1497.5" y="541.5" width="410.5" height="105" fill="#fdfdfe" filter="url(#b1)"/>
<rect x="1498" y="544" width="5" height="100" fill="#b9c0e0" opacity="0.8" filter="url(#b15)"/>
<rect x="1560.5" y="596.5" width="286" height="42" fill="url(#jet)" filter="url(#b1)"/>
<g class="db" font-size="34" fill="#3a3a3e" filter="url(#bt2)">
<text x="1530" y="584.5" textLength="68" lengthAdjust="spacingAndGlyphs">-3%</text>
<text x="1693" y="584.5" textLength="25" lengthAdjust="spacingAndGlyphs">0</text>
<text x="1833" y="584.5" textLength="54" lengthAdjust="spacingAndGlyphs">3%</text>
</g>
</g>
<g id="eels">
<rect x="681.3" y="681.3" width="446.6" height="645" fill="#050304" filter="url(#b1)"/>
<linearGradient id="eelsg" gradientUnits="userSpaceOnUse" x1="0" y1="780" x2="0" y2="1215">
<stop offset="0.0000" stop-color="#050304"/>
<stop offset="0.0299" stop-color="#050304"/>
<stop offset="0.0368" stop-color="#1a2a80"/>
<stop offset="0.0437" stop-color="#2c56b8"/>
<stop offset="0.0483" stop-color="#2c56b8"/>
<stop offset="0.0667" stop-color="#2eb24a"/>
<stop offset="0.1103" stop-color="#2fae4c"/>
<stop offset="0.1402" stop-color="#2eaa4e"/>
<stop offset="0.1517" stop-color="#2b8a78"/>
<stop offset="0.1609" stop-color="#2c5cbc"/>
<stop offset="0.1724" stop-color="#2a4cac"/>
<stop offset="0.1816" stop-color="#25207a"/>
<stop offset="0.1885" stop-color="#160f38"/>
<stop offset="0.1977" stop-color="#050304"/>
<stop offset="0.2851" stop-color="#050304"/>
<stop offset="0.2920" stop-color="#1d1850"/>
<stop offset="0.2989" stop-color="#2a48a8"/>
<stop offset="0.3080" stop-color="#2a52b2"/>
<stop offset="0.3195" stop-color="#2a56b0"/>
<stop offset="0.3333" stop-color="#2b7680"/>
<stop offset="0.3471" stop-color="#2f8c56"/>
<stop offset="0.3672" stop-color="#30945a"/>
<stop offset="0.3943" stop-color="#2f8c56"/>
<stop offset="0.4080" stop-color="#2b7680"/>
<stop offset="0.4195" stop-color="#2a54b2"/>
<stop offset="0.4299" stop-color="#2a4cac"/>
<stop offset="0.4368" stop-color="#25207a"/>
<stop offset="0.4460" stop-color="#160f38"/>
<stop offset="0.4552" stop-color="#050304"/>
<stop offset="0.5508" stop-color="#050304"/>
<stop offset="0.5577" stop-color="#1d1850"/>
<stop offset="0.5646" stop-color="#2a48a8"/>
<stop offset="0.5738" stop-color="#2a52b2"/>
<stop offset="0.5816" stop-color="#2a56b0"/>
<stop offset="0.5954" stop-color="#2b7680"/>
<stop offset="0.6092" stop-color="#2f8c56"/>
<stop offset="0.6310" stop-color="#30945a"/>
<stop offset="0.6598" stop-color="#2f8c56"/>
<stop offset="0.6736" stop-color="#2b7680"/>
<stop offset="0.6851" stop-color="#2a54b2"/>
<stop offset="0.6926" stop-color="#2a4cac"/>
<stop offset="0.6995" stop-color="#25207a"/>
<stop offset="0.7087" stop-color="#160f38"/>
<stop offset="0.7179" stop-color="#050304"/>
<stop offset="0.8069" stop-color="#050304"/>
<stop offset="0.8138" stop-color="#1d1850"/>
<stop offset="0.8207" stop-color="#2a48a8"/>
<stop offset="0.8299" stop-color="#2a52b2"/>
<stop offset="0.8414" stop-color="#2a56b0"/>
<stop offset="0.8552" stop-color="#2b7680"/>
<stop offset="0.8690" stop-color="#2f8c56"/>
<stop offset="0.8920" stop-color="#30945a"/>
<stop offset="0.9218" stop-color="#2f8c56"/>
<stop offset="0.9356" stop-color="#2b7680"/>
<stop offset="0.9471" stop-color="#2a54b2"/>
<stop offset="0.9579" stop-color="#2a4cac"/>
<stop offset="0.9648" stop-color="#25207a"/>
<stop offset="0.9740" stop-color="#160f38"/>
<stop offset="0.9832" stop-color="#050304"/>
<stop offset="1.0000" stop-color="#050304"/>
</linearGradient>
<filter id="wav2" x="-2%" y="-2%" width="104%" height="104%"><feTurbulence type="fractalNoise" baseFrequency="0.03 0.09" numOctaves="2" seed="8" result="t"/><feDisplacementMap in="SourceGraphic" in2="t" scale="6" xChannelSelector="R" yChannelSelector="G"/><feGaussianBlur stdDeviation="0.9"/></filter>
<g clip-path="url(#clipEels)">
<rect x="684" y="780" width="442" height="435" fill="url(#eelsg)" filter="url(#wav2)"/>
<rect x="689" y="812.0" width="432" height="34.0" filter="url(#grsp)" opacity="0.45"/>
<rect x="689" y="922.0" width="432" height="35.5" filter="url(#bluesp)" opacity="0.8"/>
<rect x="689" y="924.0" width="432" height="31.5" filter="url(#grnsp)" opacity="0.9"/>
<rect x="689" y="1036.0" width="432" height="37.0" filter="url(#bluesp)" opacity="0.8"/>
<rect x="689" y="1038.0" width="432" height="33.0" filter="url(#grnsp)" opacity="0.9"/>
<rect x="689" y="1149.0" width="432" height="38.0" filter="url(#bluesp)" opacity="0.8"/>
<rect x="689" y="1151.0" width="432" height="34.0" filter="url(#grnsp)" opacity="0.9"/>
<g filter="url(#b15)">
<rect x="689" y="802" width="60" height="8" fill="#ee2c24"/>
<rect x="689" y="803.5" width="10" height="6.0" fill="#ee2c24"/>
<rect x="699" y="803.0" width="22" height="5.0" fill="#ee2c24"/>
<rect x="721" y="802.5" width="14" height="5.0" fill="#ee2c24"/>
<rect x="735" y="803.0" width="8" height="6.0" fill="#ee2c24"/>
<rect x="743" y="802.5" width="8" height="5.0" fill="#ee2c24"/>
<rect x="751" y="803.0" width="22" height="6.0" fill="#ee2c24"/>
<rect x="773" y="802.5" width="18" height="5.5" fill="#ffffff"/>
<rect x="791" y="803.5" width="18" height="4.5" fill="#ffffff"/>
<rect x="809" y="802.5" width="22" height="5.0" fill="#f6e23a"/>
<rect x="831" y="802.5" width="22" height="4.5" fill="#f6e23a"/>
<rect x="853" y="803.5" width="14" height="5.5" fill="#ffffff"/>
<rect x="867" y="802.5" width="14" height="5.0" fill="#ffffff"/>
<rect x="881" y="803.0" width="22" height="5.0" fill="#ee2c24"/>
<rect x="903" y="802.5" width="8" height="4.5" fill="#fdfdf0"/>
<rect x="911" y="803.0" width="8" height="6.0" fill="#e8442a"/>
<rect x="919" y="802.5" width="10" height="6.0" fill="#f6e23a"/>
<rect x="929" y="803.0" width="12" height="6.0" fill="#f6e23a"/>
<rect x="941" y="803.0" width="12" height="5.5" fill="#ffffff"/>
<rect x="953" y="802.5" width="8" height="6.0" fill="#f6e23a"/>
<rect x="961" y="802.5" width="8" height="5.0" fill="#ffffff"/>
<rect x="969" y="803.5" width="18" height="4.5" fill="#f6e23a"/>
<rect x="987" y="803.5" width="10" height="5.5" fill="#ffffff"/>
<rect x="997" y="803.5" width="12" height="5.5" fill="#f6e23a"/>
<rect x="1009" y="802.5" width="10" height="5.0" fill="#fdfdf0"/>
<rect x="1019" y="803.5" width="14" height="4.5" fill="#fdfdf0"/>
<rect x="1033" y="803.0" width="22" height="5.0" fill="#fdfdf0"/>
<rect x="1055" y="803.0" width="22" height="6.0" fill="#f6e23a"/>
<rect x="1077" y="802.5" width="22" height="4.5" fill="#fdfdf0"/>
<rect x="1099" y="802.5" width="14" height="5.5" fill="#f4a02a"/>
<rect x="1113" y="802.5" width="8" height="6.0" fill="#f6e23a"/>
</g>
</g>
<g filter="url(#b1)">
<path d="M1083.8 763 L1096.5 781 L1071 781 Z" fill="#f6f6f6"/>
<line x1="1083.8" y1="785.5" x2="1083.8" y2="1214.5" stroke="#ececf0" stroke-width="7.5" stroke-dasharray="16.6 12.6"/>
</g>
<text class="db" x="784" y="740.5" font-size="46" fill="#fbfaf6" textLength="253" lengthAdjust="spacingAndGlyphs" filter="url(#bt)">EELS Ge%</text>
<g class="dr" font-size="43" fill="#f2f0ee" filter="url(#bt)">
<text x="686" y="1268.5" textLength="38" lengthAdjust="spacingAndGlyphs">0</text>
<text x="987" y="1268.5" textLength="140" lengthAdjust="spacingAndGlyphs">100%</text>
</g>
<path d="M692.6 1275 L1084 1271.5 L1084 1292 L692.6 1292 Z" fill="url(#eelsbar)" filter="url(#b1)"/>
</g>
<g id="chart">
<rect x="1143.6" y="675.5" width="776" height="656" fill="#1a1a1a" filter="url(#b1)"/>
<rect x="1154.5" y="683.5" width="755.5" height="640" fill="#fefefe" filter="url(#b1)"/>
<g stroke="#dcdcde" stroke-width="3.4" filter="url(#b15)">
<line x1="1337" y1="784.5" x2="1909" y2="784.5"/>
<line x1="1337" y1="861.0" x2="1909" y2="861.0"/>
<line x1="1337" y1="937.0" x2="1909" y2="937.0"/>
<line x1="1337" y1="1012.5" x2="1909" y2="1012.5"/>
<line x1="1337" y1="1089.0" x2="1909" y2="1089.0"/>
<line x1="1337" y1="1163.0" x2="1909" y2="1163.0"/>
<line x1="1486.0" y1="784" x2="1486.0" y2="1163"/>
<line x1="1635.5" y1="784" x2="1635.5" y2="1163"/>
<line x1="1784.5" y1="784" x2="1784.5" y2="1163"/>
<line x1="1337" y1="784" x2="1337" y2="1165" stroke="#cfcfd2"/>
</g>
<g clip-path="url(#clipChart)" fill="none" stroke-linejoin="round" stroke-linecap="round" filter="url(#b1)">
<path d="M1337 786C1347.5 786 1382.8 786 1400 786C1417.2 786 1431.3 785.6 1440 786C1448.7 786.4 1448.7 787.2 1452 788.5C1455.3 789.8 1457.7 791.4 1460 794C1462.3 796.6 1464 799.5 1466 804C1468 808.5 1470.2 812 1472 821C1473.8 830 1475.3 847.7 1477 858C1478.7 868.3 1480.3 874.7 1482 883C1483.7 891.3 1485.3 902.6 1487 908C1488.7 913.4 1489.9 914.7 1492 915.5C1494.1 916.3 1497 912.4 1499.7 913C1502.4 913.6 1505.1 919 1508 919C1510.9 919 1513.8 915.2 1517 913C1520.2 910.8 1524.5 908.1 1527 905.6C1529.5 903.1 1530.3 901.8 1532 898C1533.7 894.2 1535.4 891.7 1537 883C1538.6 874.3 1540.1 856.3 1541.8 846C1543.5 835.7 1545.3 828.8 1547 821C1548.7 813.2 1550.1 804.3 1551.7 799C1553.3 793.7 1554.7 791.2 1556.6 789C1558.5 786.8 1559.1 786.2 1563 785.5C1566.9 784.8 1575.5 784.8 1580 785C1584.5 785.2 1587.2 785.5 1590 786.5C1592.8 787.5 1595 787.2 1597 791C1599 794.8 1600.3 801.9 1602 809C1603.7 816.1 1605.5 825.4 1607 833.6C1608.5 841.8 1609.5 849.8 1610.7 858C1611.9 866.2 1613 873.8 1614.4 883C1615.9 892.2 1617.3 907.2 1619.4 913C1621.5 918.8 1623.9 916.2 1626.8 918C1629.7 919.8 1633.4 924.4 1636.7 924C1640 923.6 1643.4 917.8 1646.7 915.5C1650 913.2 1653.7 913.4 1656.6 910.5C1659.5 907.6 1661.9 902.6 1664 898C1666.1 893.4 1667.3 891.7 1669 883C1670.7 874.3 1672.8 856.3 1674 846C1675.2 835.7 1675.2 828.5 1676.4 821C1677.6 813.5 1679.3 806.3 1681.4 801C1683.5 795.7 1686.4 791.7 1688.8 789C1691.2 786.3 1692.5 785.8 1696 785C1699.5 784.2 1705.4 784.4 1710 784.5C1714.6 784.6 1719.7 783.9 1723.6 785.5C1727.5 787.1 1731 790.1 1733.5 794C1736 797.9 1737 802.4 1738.4 809C1739.8 815.6 1740.8 825.4 1742 833.6C1743.2 841.8 1744.5 850.2 1745.8 858.4C1747.1 866.6 1748.3 874.3 1749.6 883C1750.8 891.7 1751.9 904.7 1753.3 910.5C1754.7 916.3 1755.5 916.6 1758 918C1760.5 919.4 1765.1 918.2 1768 919C1770.9 919.8 1773.1 923.6 1775.6 923C1778.1 922.4 1780.1 918 1783 915.5C1785.9 913 1790.3 911.3 1793 908C1795.7 904.7 1797.3 899.8 1799 895.6C1800.7 891.4 1801.7 891.3 1803 883C1804.3 874.7 1805.5 856.3 1806.7 846C1807.9 835.7 1808.9 828.8 1810.3 821C1811.7 813.2 1813.7 804.3 1815.3 799C1816.9 793.7 1817.9 791.3 1820 789C1822.1 786.7 1824.2 785.8 1827.7 785C1831.2 784.2 1836.5 784.4 1841 784.5C1845.5 784.6 1851.4 783.9 1855 785.5C1858.6 787.1 1860.3 790.9 1862.4 794C1864.5 797.1 1865.8 797.4 1867.4 804C1869.1 810.6 1870.7 824.5 1872.3 833.6C1873.9 842.7 1875.8 850.2 1877.3 858.4C1878.8 866.6 1879.8 874.7 1881 883C1882.2 891.3 1883.2 901.8 1884.7 908C1886.2 914.2 1888.1 917.1 1889.7 920.4C1891.3 923.7 1892.5 926.1 1894.6 928C1896.6 929.9 1899.1 930.8 1902 931.6C1904.9 932.4 1910.3 932.8 1912 933" stroke="#f0885a" stroke-width="6.6"/>
<path d="M1440 1162C1442 1161.6 1448.7 1160.8 1452 1159.5C1455.3 1158.2 1457.7 1156.6 1460 1154C1462.3 1151.4 1464 1148.5 1466 1144C1468 1139.5 1470.2 1136 1472 1127C1473.8 1118 1475.3 1100.3 1477 1090C1478.7 1079.7 1480.3 1073.3 1482 1065C1483.7 1056.7 1485.3 1045.4 1487 1040C1488.7 1034.6 1489.9 1033.3 1492 1032.5C1494.1 1031.7 1497 1035.6 1499.7 1035C1502.4 1034.4 1505.1 1029 1508 1029C1510.9 1029 1513.8 1032.8 1517 1035C1520.2 1037.2 1524.5 1039.9 1527 1042.4C1529.5 1044.9 1530.3 1046.2 1532 1050C1533.7 1053.8 1535.4 1056.3 1537 1065C1538.6 1073.7 1540.1 1091.7 1541.8 1102C1543.5 1112.3 1545.3 1119.2 1547 1127C1548.7 1134.8 1550.1 1143.7 1551.7 1149C1553.3 1154.3 1554.7 1156.8 1556.6 1159C1558.5 1161.2 1559.1 1161.8 1563 1162.5C1566.9 1163.2 1575.5 1163.2 1580 1163C1584.5 1162.8 1587.2 1162.5 1590 1161.5C1592.8 1160.5 1595 1160.8 1597 1157C1599 1153.2 1600.3 1146.1 1602 1139C1603.7 1131.9 1605.5 1122.6 1607 1114.4C1608.5 1106.2 1609.5 1098.2 1610.7 1090C1611.9 1081.8 1613 1074.2 1614.4 1065C1615.9 1055.8 1617.3 1040.8 1619.4 1035C1621.5 1029.2 1623.9 1031.8 1626.8 1030C1629.7 1028.2 1633.4 1023.6 1636.7 1024C1640 1024.4 1643.4 1030.2 1646.7 1032.5C1650 1034.8 1653.7 1034.6 1656.6 1037.5C1659.5 1040.4 1661.9 1045.4 1664 1050C1666.1 1054.6 1667.3 1056.3 1669 1065C1670.7 1073.7 1672.8 1091.7 1674 1102C1675.2 1112.3 1675.2 1119.5 1676.4 1127C1677.6 1134.5 1679.3 1141.7 1681.4 1147C1683.5 1152.3 1686.4 1156.3 1688.8 1159C1691.2 1161.7 1692.5 1162.2 1696 1163C1699.5 1163.8 1705.4 1163.6 1710 1163.5C1714.6 1163.4 1719.7 1164.1 1723.6 1162.5C1727.5 1160.9 1731 1157.9 1733.5 1154C1736 1150.1 1737 1145.6 1738.4 1139C1739.8 1132.4 1740.8 1122.6 1742 1114.4C1743.2 1106.2 1744.5 1097.8 1745.8 1089.6C1747.1 1081.4 1748.3 1073.7 1749.6 1065C1750.8 1056.3 1751.9 1043.3 1753.3 1037.5C1754.7 1031.7 1755.5 1031.4 1758 1030C1760.5 1028.6 1765.1 1029.8 1768 1029C1770.9 1028.2 1773.1 1024.4 1775.6 1025C1778.1 1025.6 1780.1 1030 1783 1032.5C1785.9 1035 1790.3 1036.7 1793 1040C1795.7 1043.3 1797.3 1048.2 1799 1052.4C1800.7 1056.6 1801.7 1056.7 1803 1065C1804.3 1073.3 1805.5 1091.7 1806.7 1102C1807.9 1112.3 1808.9 1119.2 1810.3 1127C1811.7 1134.8 1813.7 1143.7 1815.3 1149C1816.9 1154.3 1817.9 1156.7 1820 1159C1822.1 1161.3 1824.2 1162.2 1827.7 1163C1831.2 1163.8 1836.5 1163.6 1841 1163.5C1845.5 1163.4 1851.4 1164.1 1855 1162.5C1858.6 1160.9 1860.3 1157.1 1862.4 1154C1864.5 1150.9 1865.8 1150.6 1867.4 1144C1869.1 1137.4 1870.7 1123.5 1872.3 1114.4C1873.9 1105.3 1875.8 1097.8 1877.3 1089.6C1878.8 1081.4 1879.8 1073.3 1881 1065C1882.2 1056.7 1883.2 1046.2 1884.7 1040C1886.2 1033.8 1888.1 1030.9 1889.7 1027.6C1891.3 1024.3 1892.5 1021.9 1894.6 1020C1896.6 1018.1 1899.1 1017.2 1902 1016.4C1904.9 1015.6 1910.3 1015.2 1912 1015" stroke="#5f9fdc" stroke-width="6.6"/>
<path d="M1345 1163 L1432 1163" stroke="#9cc4ea" stroke-width="4" stroke-dasharray="22 14" opacity="0.55"/>
</g>
<g filter="url(#b1)"><rect x="1478.5" y="700" width="68.5" height="7" fill="#5f9fdc"/><rect x="1663" y="700" width="68" height="7" fill="#f0885a"/></g>
<g class="sr" font-size="41.5" fill="#707075" stroke="#707075" stroke-width="1.7" filter="url(#bt2)">
<text x="1552" y="717.5" textLength="83" lengthAdjust="spacingAndGlyphs">Ge%</text>
<text x="1737" y="717.5" textLength="63" lengthAdjust="spacingAndGlyphs">Si%</text>
</g>
<g class="sr" font-size="43" fill="#707075" stroke="#707075" stroke-width="1.5" text-anchor="middle" filter="url(#bt2)">
<text x="1336.0" y="1237" textLength="27" lengthAdjust="spacingAndGlyphs">0</text>
<text x="1487.0" y="1237" textLength="50" lengthAdjust="spacingAndGlyphs">20</text>
<text x="1635.5" y="1237" textLength="50" lengthAdjust="spacingAndGlyphs">40</text>
<text x="1784.0" y="1237" textLength="50" lengthAdjust="spacingAndGlyphs">60</text>
</g>
<g filter="url(#b1)">
<line x1="1536" y1="1002.5" x2="1592" y2="1026" stroke="#3a3a3c" stroke-width="3.5"/>
<path d="M1605 1031.5 L1583 1033 L1590.5 1015.5 Z" fill="#111"/>
<line x1="1732" y1="965.5" x2="1664" y2="936" stroke="#3a3a3c" stroke-width="3.5"/>
<path d="M1650.5 930.5 L1672.5 930 L1665 946.5 Z" fill="#111"/>
</g>
<g class="db" fill="#14100e" filter="url(#bt2)">
<text x="1405" y="996.5" font-size="51" textLength="139" lengthAdjust="spacingAndGlyphs">SiGe</text>
<text x="1743" y="990" font-size="52" textLength="57" lengthAdjust="spacingAndGlyphs">Si</text>
<text x="1421" y="1299.5" font-size="52" textLength="391" lengthAdjust="spacingAndGlyphs">Position (nm)</text>
</g>
<text class="sb" transform="translate(1256 1117) rotate(-90)" font-size="80" fill="#0e0e0e" stroke="#0e0e0e" stroke-width="1.2" textLength="256" lengthAdjust="spacingAndGlyphs" filter="url(#bt)">Atomic %</text>
<text class="sfb" x="1190" y="1267.5" font-size="102" fill="#050505" textLength="94" lengthAdjust="spacingAndGlyphs" filter="url(#bt)">b)</text>
<g fill="#c4c4c8" filter="url(#b1)"><circle cx="1226.5" cy="773" r="2.5"/><circle cx="1226.5" cy="795" r="2.5"/></g>
</g>
<g id="titles" class="sb" font-size="57.5" fill="#050505" filter="url(#bt)">
<text x="177.5" y="87.7" textLength="399" lengthAdjust="spacingAndGlyphs">XRD RSM (113)</text>
<text x="752" y="87.7" textLength="189" lengthAdjust="spacingAndGlyphs">HAADF</text>
<text x="1114" y="87.7" textLength="368" lengthAdjust="spacingAndGlyphs">In plane (220)</text>
<text x="1539" y="87.7" textLength="415" lengthAdjust="spacingAndGlyphs">Out plane (002)</text>
</g>
</svg>
</body>
</html>
